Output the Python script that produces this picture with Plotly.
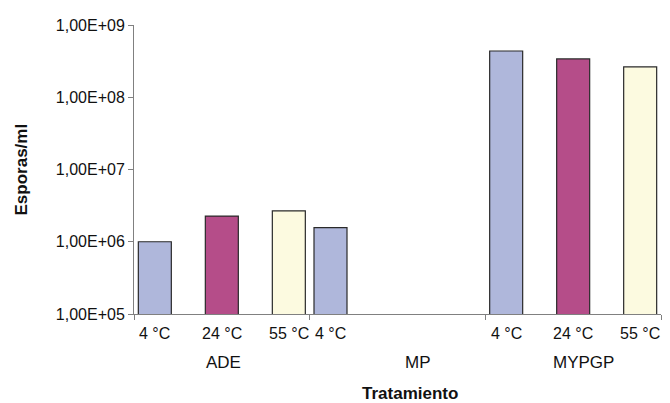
import plotly.graph_objects as go

groups = ["ADE", "MP", "MYPGP"]
temps = ["4 °C", "24 °C", "55 °C"]
values = {
    "4 °C": [1.0e6, 1.57e6, 4.37e8],
    "24 °C": [2.27e6, None, 3.39e8],
    "55 °C": [2.68e6, None, 2.63e8],
}
colors = {"4 °C": "#AFB7DB", "24 °C": "#B54D89", "55 °C": "#FCFAE0"}
ytick_vals = [1e5, 1e6, 1e7, 1e8, 1e9]
ytick_text = ["1,00E+05", "1,00E+06", "1,00E+07", "1,00E+08", "1,00E+09"]

# page body adds an 8px offset; compensate so the chart lands where the reference has it
PAD = 8
W, H = 670 - PAD, 403 - PAD
ML, MR, MT, MB = 134 - PAD, 9, 22 - PAD, 89
plot_w = W - ML - MR
cat_px = plot_w / len(groups)
slot_px = 67
bar_px = 33
FONT = "Liberation Sans, Arial, sans-serif"

fig = go.Figure()
for i, t in enumerate(temps):
    shift = (i - 1) * slot_px
    fig.add_trace(go.Bar(
        x=groups, y=values[t], name=t,
        width=bar_px / cat_px,
        offset=(shift - bar_px / 2) / cat_px,
        marker=dict(color=colors[t], line=dict(color="#2a2a2a", width=1.2)),
        showlegend=False,
    ))

annotations = []
for i, t in enumerate(temps):
    shift = (i - 1) * slot_px
    for g, v in zip(groups, values[t]):
        if v is None:
            continue
        annotations.append(dict(
            x=g, xref="x", y=0, yref="paper", text=t, showarrow=False,
            xshift=shift, yshift=-19, yanchor="middle", xanchor="center",
            font=dict(family=FONT, size=16, color="#111")))
group_shift = [2, 20, 10]
for g, s in zip(groups, group_shift):
    annotations.append(dict(
        x=g, xref="x", y=0, yref="paper", text=g, showarrow=False,
        xshift=s, yshift=-48, yanchor="middle", xanchor="center",
        font=dict(family=FONT, size=17, color="#111")))
annotations.append(dict(
    x=0.5, xref="paper", y=0, yref="paper", text="<b>Tratamiento</b>",
    showarrow=False, xshift=12, yshift=-79, yanchor="middle",
    font=dict(family=FONT, size=17, color="#111")))
annotations.append(dict(
    x=0, xref="paper", y=0.5, yref="paper", text="<b>Esporas/ml</b>",
    showarrow=False, xshift=-113, textangle=-90, xanchor="center", yanchor="middle",
    font=dict(family=FONT, size=17, color="#111")))

fig.update_layout(
    width=W, height=H,
    margin=dict(l=ML, r=MR, t=MT, b=MB),
    paper_bgcolor="white", plot_bgcolor="white",
    barmode="overlay",
    annotations=annotations,
    xaxis=dict(
        type="category", showticklabels=False, tickson="boundaries",
        ticks="outside", ticklen=5, tickcolor="#808080",
        showline=True, linecolor="#808080", linewidth=1,
        showgrid=False, zeroline=False, range=[-0.5, 2.5],
    ),
    yaxis=dict(
        type="log", range=[5, 9], tickvals=ytick_vals, ticktext=ytick_text,
        ticks="outside", ticklen=5, tickcolor="#808080",
        showline=True, linecolor="#808080", linewidth=1,
        showgrid=False, zeroline=False,
        tickfont=dict(family=FONT, size=16, color="#111"),
    ),
)

fig.write_html("out.html")
